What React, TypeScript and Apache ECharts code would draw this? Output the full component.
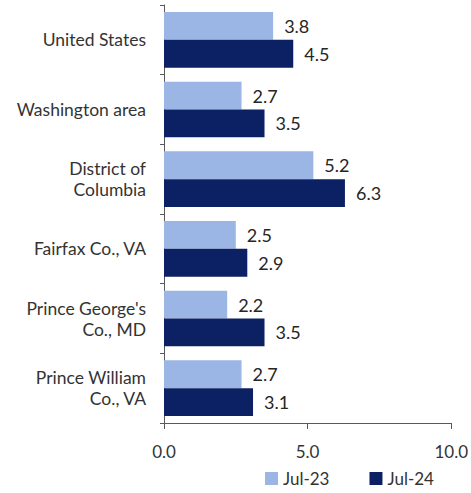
import React, { useEffect, useRef } from "react";
import * as echarts from "echarts";

const categories = [
  "United States",
  "Washington area",
  "District of\nColumbia",
  "Fairfax Co., VA",
  "Prince George's\nCo., MD",
  "Prince William\nCo., VA",
];
const jul23 = [3.8, 2.7, 5.2, 2.5, 2.2, 2.7];
const jul24 = [4.5, 3.5, 6.3, 2.9, 3.5, 3.1];
const seriesNames = ["Jul-23", "Jul-24"];

const FONT = "Lato, 'Open Sans', sans-serif";

export default function App() {
  const ref = useRef<HTMLDivElement>(null);
  useEffect(() => {
    if (!ref.current) return;
    const chart = echarts.init(ref.current, undefined, { renderer: "svg" });
    const label = {
      show: true,
      position: "right",
      distance: 11,
      color: "#262626",
      fontFamily: FONT,
      fontSize: 18,
      formatter: (p: any) => Number(p.value).toFixed(1),
    };
    chart.setOption({
      animation: false,
      backgroundColor: "#ffffff",
      grid: { left: 164, right: 19, top: 5, bottom: 70, containLabel: false },
      legend: {
        data: seriesNames,
        bottom: 1,
        left: 260,
        itemWidth: 13,
        itemHeight: 13,
        itemGap: 40,
        icon: "rect",
        textStyle: { fontFamily: FONT, fontSize: 17, color: "#333333" },
      },
      xAxis: {
        type: "value",
        min: 0,
        max: 10,
        interval: 5,
        splitLine: { show: false },
        axisLine: { show: true, lineStyle: { color: "#595959", width: 1 } },
        axisTick: { show: true, length: 6, lineStyle: { color: "#595959" } },
        axisLabel: {
          margin: 20,
          fontFamily: FONT,
          fontSize: 17,
          color: "#333333",
          formatter: (v: number) => v.toFixed(1),
        },
      },
      yAxis: {
        type: "category",
        data: categories,
        inverse: true,
        axisLine: { show: true, lineStyle: { color: "#595959", width: 1 } },
        axisTick: { show: true, length: 4, lineStyle: { color: "#595959" } },
        axisLabel: {
          margin: 18,
          fontFamily: FONT,
          fontSize: 17.5,
          lineHeight: 21,
          color: "#333333",
          align: "right",
        },
      },
      series: [
        {
          name: seriesNames[0],
          type: "bar",
          data: jul23,
          barGap: "0%",
          barCategoryGap: "20%",
          itemStyle: { color: "#9bb6e4" },
          label,
        },
        {
          name: seriesNames[1],
          type: "bar",
          data: jul24,
          barGap: "0%",
          barCategoryGap: "20%",
          itemStyle: { color: "#0c2163" },
          label,
        },
      ],
    });
    return () => chart.dispose();
  }, []);
  return <div ref={ref} style={{ width: 471, height: 493, position: "absolute", left: 0, top: 0 }} />;
}
